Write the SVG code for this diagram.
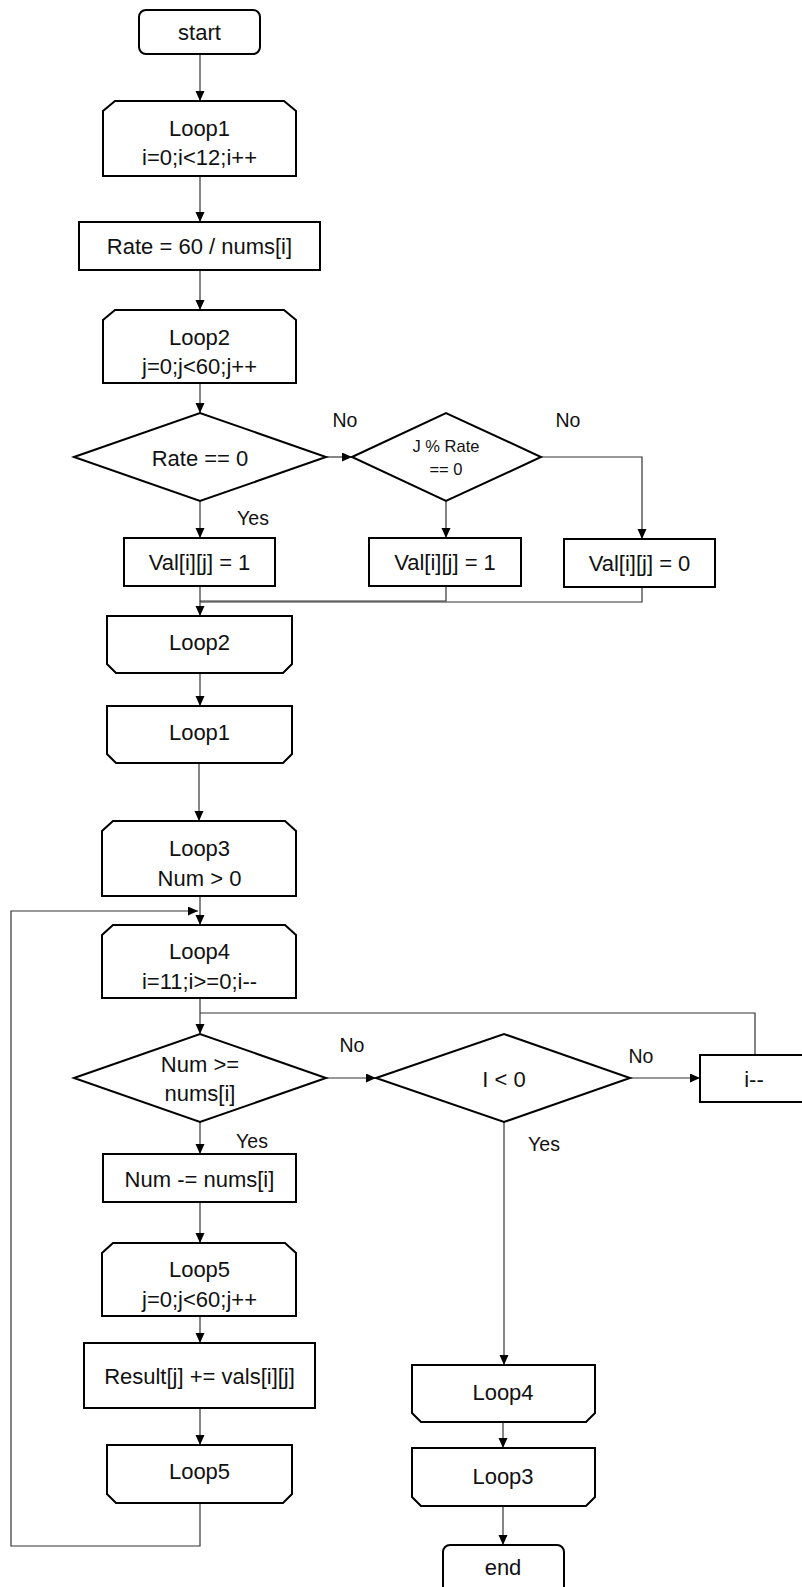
<svg xmlns="http://www.w3.org/2000/svg" width="802" height="1587" viewBox="0 0 802 1587">
<style>
.n{fill:#fff;stroke:#000;stroke-width:2}
.t{font-family:"Liberation Sans",Arial,sans-serif;font-size:22px;fill:#111;text-anchor:middle;dominant-baseline:central}
.s{font-size:16.5px}
.l{font-family:"Liberation Sans",Arial,sans-serif;font-size:19.5px;fill:#111;text-anchor:middle;dominant-baseline:central}
.c{fill:none;stroke:#333;stroke-width:1.2}
</style>
<defs>
<marker id="a" markerUnits="userSpaceOnUse" markerWidth="12" markerHeight="12" refX="10" refY="4.5" orient="auto">
<path d="M0,0 L10,4.5 L0,9 Z" fill="#000"/>
</marker>
</defs>
<rect width="802" height="1587" fill="#fff"/>
<g id="connectors">
<path class="c" d="M200,54 V101" marker-end="url(#a)"/>
<path class="c" d="M200,176 V222" marker-end="url(#a)"/>
<path class="c" d="M200,270 V310" marker-end="url(#a)"/>
<path class="c" d="M200,383 V413" marker-end="url(#a)"/>
<path class="c" d="M326,457 H352" marker-end="url(#a)"/>
<path class="c" d="M200,501 V538" marker-end="url(#a)"/>
<path class="c" d="M446,501 V538" marker-end="url(#a)"/>
<path class="c" d="M541,457 H642 V539" marker-end="url(#a)"/>
<path class="c" d="M200,586 V616" marker-end="url(#a)"/>
<path class="c" d="M446,586 V601 H200"/>
<path class="c" d="M642,587 V602 H200"/>
<path class="c" d="M200,673 V706" marker-end="url(#a)"/>
<path class="c" d="M199,763 V821" marker-end="url(#a)"/>
<path class="c" d="M200,896 V925" marker-end="url(#a)"/>
<path class="c" d="M200,1503 V1546 H11 V911 H198" marker-end="url(#a)"/>
<path class="c" d="M200,998 V1034" marker-end="url(#a)"/>
<path class="c" d="M755,1055 V1013 H200"/>
<path class="c" d="M326,1078 H376" marker-end="url(#a)"/>
<path class="c" d="M630,1078 H700" marker-end="url(#a)"/>
<path class="c" d="M200,1122 V1154" marker-end="url(#a)"/>
<path class="c" d="M504,1122 V1365" marker-end="url(#a)"/>
<path class="c" d="M200,1202 V1243" marker-end="url(#a)"/>
<path class="c" d="M200,1316 V1343" marker-end="url(#a)"/>
<path class="c" d="M200,1408 V1445" marker-end="url(#a)"/>
<path class="c" d="M503,1422 V1448" marker-end="url(#a)"/>
<path class="c" d="M503,1506 V1545" marker-end="url(#a)"/>
</g>
<g id="labels">
<text class="l" x="345" y="420">No</text>
<text class="l" x="568" y="420">No</text>
<text class="l" x="253" y="518">Yes</text>
<text class="l" x="352" y="1045">No</text>
<text class="l" x="641" y="1056">No</text>
<text class="l" x="252" y="1141">Yes</text>
<text class="l" x="544" y="1144">Yes</text>
</g>
<g id="start"><rect class="n" x="139" y="10" width="121" height="44" rx="7"/><text class="t" x="199.5" y="32">start</text></g>
<g id="loop1"><path class="n" d="M103,176 V111 L115,101 H284 L296,111 V176 Z"/><text class="t" x="199.5" y="128">Loop1</text><text class="t" x="199.5" y="157">i=0;i&lt;12;i++</text></g>
<g id="rate"><rect class="n" x="79" y="222" width="241" height="48"/><text class="t" x="199.5" y="246">Rate = 60 / nums[i]</text></g>
<g id="loop2"><path class="n" d="M103,383 V320 L115,310 H284 L296,320 V383 Z"/><text class="t" x="199.5" y="337">Loop2</text><text class="t" x="199.5" y="366">j=0;j&lt;60;j++</text></g>
<g id="d1"><polygon class="n" points="74,457 200,413 326,457 200,501"/><text class="t" x="200" y="458">Rate == 0</text></g>
<g id="d2"><polygon class="n" points="352,457 446,413 541,457 446,501"/><text class="t s" x="446" y="446">J % Rate</text><text class="t s" x="446" y="469">== 0</text></g>
<g id="val1"><rect class="n" x="124" y="538" width="151" height="48"/><text class="t" x="199.5" y="562">Val[i][j] = 1</text></g>
<g id="val2"><rect class="n" x="369" y="538" width="152" height="48"/><text class="t" x="445" y="562">Val[i][j] = 1</text></g>
<g id="val3"><rect class="n" x="564" y="539" width="151" height="48"/><text class="t" x="639.5" y="563">Val[i][j] = 0</text></g>
<g id="loop2end"><path class="n" d="M107,616 H292 V664 L283,673 H116 L107,664 Z"/><text class="t" x="199.5" y="642">Loop2</text></g>
<g id="loop1end"><path class="n" d="M107,706 H292 V754 L283,763 H116 L107,754 Z"/><text class="t" x="199.5" y="732">Loop1</text></g>
<g id="loop3"><path class="n" d="M102,896 V831 L113,821 H285 L296,831 V896 Z"/><text class="t" x="199.5" y="848">Loop3</text><text class="t" x="199.5" y="878">Num &gt; 0</text></g>
<g id="loop4"><path class="n" d="M102,998 V935 L113,925 H285 L296,935 V998 Z"/><text class="t" x="199.5" y="951">Loop4</text><text class="t" x="199.5" y="981">i=11;i&gt;=0;i--</text></g>
<g id="d3"><polygon class="n" points="74,1078 200,1034 326,1078 200,1122"/><text class="t" x="200" y="1064">Num &gt;=</text><text class="t" x="200" y="1093">nums[i]</text></g>
<g id="d4"><polygon class="n" points="376,1078 504,1034 630,1078 504,1122"/><text class="t" x="504" y="1079">I &lt; 0</text></g>
<g id="idec"><rect class="n" x="700" y="1055" width="110" height="47"/><text class="t" x="754" y="1079">i--</text></g>
<g id="numsub"><rect class="n" x="103" y="1154" width="193" height="48"/><text class="t" x="199.5" y="1179">Num -= nums[i]</text></g>
<g id="loop5"><path class="n" d="M102,1316 V1253 L113,1243 H285 L296,1253 V1316 Z"/><text class="t" x="199.5" y="1269">Loop5</text><text class="t" x="199.5" y="1299">j=0;j&lt;60;j++</text></g>
<g id="result"><rect class="n" x="84" y="1343" width="231" height="65"/><text class="t" x="199.5" y="1376">Result[j] += vals[i][j]</text></g>
<g id="loop5end"><path class="n" d="M107,1445 H292 V1494 L283,1503 H116 L107,1494 Z"/><text class="t" x="199.5" y="1471">Loop5</text></g>
<g id="loop4end"><path class="n" d="M412,1365 H595 V1413 L586,1422 H421 L412,1413 Z"/><text class="t" x="503" y="1392">Loop4</text></g>
<g id="loop3end"><path class="n" d="M412,1448 H595 V1497 L586,1506 H421 L412,1497 Z"/><text class="t" x="503" y="1476">Loop3</text></g>
<g id="end"><rect class="n" x="443" y="1545" width="121" height="50" rx="7"/><text class="t" x="503" y="1567">end</text></g>
</svg>
